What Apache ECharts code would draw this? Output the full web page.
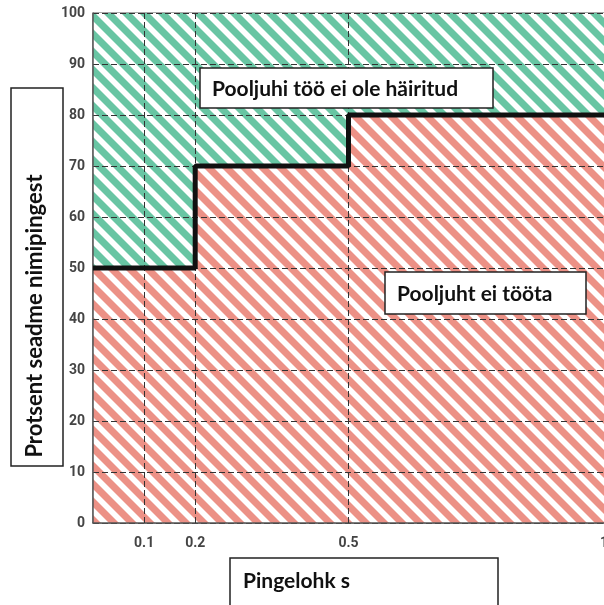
<!DOCTYPE html>
<html>
<head>
<meta charset="utf-8">
<script src="https://cdn.jsdelivr.net/npm/echarts@6/dist/echarts.min.js"></script>
<style>
  html, body { margin: 0; padding: 0; background: #fff; }
  #chart { width: 604px; height: 605px; }
</style>
</head>
<body>
<div id="chart"></div>
<script>
// step limit: voltage level (%) held from each break point on
var breakX = [0, 0.2, 0.5, 1];
var levelY = [50, 70, 80, 80];
// full range of the upper zone
var topX = [0, 1];
var topY = [100, 100];
// axis ticks
var xTickLabels = [0.1, 0.2, 0.5, 1];
var xGridLines = [0.1, 0.2, 0.5];

// diagonal hatch tile, seamless
function stripes(color) {
  var s = 18, w = 10;
  var c = document.createElement("canvas");
  c.width = s;
  c.height = s;
  var ctx = c.getContext("2d");
  ctx.fillStyle = "#fff";
  ctx.fillRect(0, 0, s, s);
  ctx.fillStyle = color;
  for (var k = -s; k <= s; k += s) {
    ctx.beginPath();
    ctx.moveTo(k, 0);
    ctx.lineTo(k + w, 0);
    ctx.lineTo(k + w + s, s);
    ctx.lineTo(k + s, s);
    ctx.closePath();
    ctx.fill();
  }
  return { image: c, repeat: "repeat" };
}

var chart = echarts.init(document.getElementById("chart"));

var stepData = breakX.map(function(x, i) { return [x, levelY[i]]; });
var topData = topX.map(function(x, i) { return [x, topY[i]]; });

var boldFont = "Lato, 'Open Sans', sans-serif";
var tickFont = "Roboto, sans-serif";

var option = {
  backgroundColor: "#fff",
  animation: false,
  grid: {
    left: 93,
    top: 13,
    right: 0,
    bottom: 82,
    containLabel: false,
    outerBoundsMode: "none",
    show: true,
    borderColor: "#555",
    borderWidth: 1
  },
  xAxis: {
    type: "value",
    min: 0,
    max: 1,
    interval: 0.1,
    z: 3,
    axisLine: { show: true, lineStyle: { color: "#555", width: 1.5 } },
    axisTick: { show: false },
    splitLine: { show: false },
    axisLabel: {
      margin: 13,
      color: "#444",
      fontWeight: "bold",
      fontSize: 14,
      fontFamily: tickFont,
      formatter: function(v) {
        for (var i = 0; i < xTickLabels.length; i++) {
          if (Math.abs(v - xTickLabels[i]) < 1e-6) return String(xTickLabels[i]);
        }
        return "";
      }
    }
  },
  yAxis: {
    type: "value",
    min: 0,
    max: 100,
    interval: 10,
    z: 3,
    axisLine: { show: true, lineStyle: { color: "#555", width: 1.5 } },
    axisTick: { show: false },
    splitLine: { show: true, lineStyle: { color: "#333", width: 1, type: [6, 3] } },
    axisLabel: {
      margin: 8,
      color: "#444",
      fontWeight: "bold",
      fontSize: 14,
      fontFamily: tickFont
    }
  },
  series: [
    {
      name: "ok",
      type: "line",
      z: 1,
      data: topData,
      symbol: "none",
      lineStyle: { width: 0 },
      areaStyle: { color: stripes("#68c5a3"), opacity: 1 },
      silent: true
    },
    {
      name: "fail",
      type: "line",
      z: 2,
      step: "end",
      data: stepData,
      symbol: "none",
      lineStyle: { width: 0 },
      areaStyle: { color: stripes("#ec9186"), opacity: 1 },
      silent: true
    },
    {
      name: "grid",
      type: "line",
      z: 3,
      data: [],
      markLine: {
        silent: true,
        symbol: "none",
        label: { show: false },
        lineStyle: { color: "#333", width: 1, type: [6, 3] },
        data: xGridLines.map(function(v) { return { xAxis: v }; })
      }
    },
    {
      name: "limit",
      type: "line",
      z: 5,
      step: "end",
      data: stepData,
      symbol: "none",
      lineStyle: { color: "#111", width: 5 },
      silent: true
    }
  ],
  graphic: [
    {
      type: "rect",
      z: 10,
      shape: { x: 200, y: 68, width: 293, height: 40 },
      style: { fill: "#fff", stroke: "#222", lineWidth: 1.5 }
    },
    {
      type: "text",
      z: 11,
      x: 212,
      y: 89,
      style: {
        text: "Pooljuhi töö ei ole häiritud",
        font: "bold 21px " + boldFont,
        fill: "#111",
        verticalAlign: "middle"
      }
    },
    {
      type: "rect",
      z: 10,
      shape: { x: 385, y: 272, width: 201, height: 42 },
      style: { fill: "#fff", stroke: "#222", lineWidth: 1.5 }
    },
    {
      type: "text",
      z: 11,
      x: 397,
      y: 294,
      style: {
        text: "Pooljuht ei tööta",
        font: "bold 21px " + boldFont,
        fill: "#111",
        verticalAlign: "middle"
      }
    },
    {
      type: "rect",
      z: 10,
      shape: { x: 11, y: 88, width: 52, height: 378 },
      style: { fill: "#fff", stroke: "#222", lineWidth: 1.5 }
    },
    {
      type: "text",
      z: 11,
      x: 35,
      y: 316,
      rotation: Math.PI / 2,
      style: {
        text: "Protsent seadme nimipingest",
        font: "bold 22px " + boldFont,
        fill: "#111",
        align: "center",
        verticalAlign: "middle"
      }
    },
    {
      type: "rect",
      z: 10,
      shape: { x: 230, y: 558, width: 268, height: 60 },
      style: { fill: "#fff", stroke: "#222", lineWidth: 1.5 }
    },
    {
      type: "text",
      z: 11,
      x: 243,
      y: 581,
      style: {
        text: "Pingelohk s",
        font: "bold 21px " + boldFont,
        fill: "#111",
        verticalAlign: "middle"
      }
    }
  ]
};

chart.setOption(option);
</script>
</body>
</html>
